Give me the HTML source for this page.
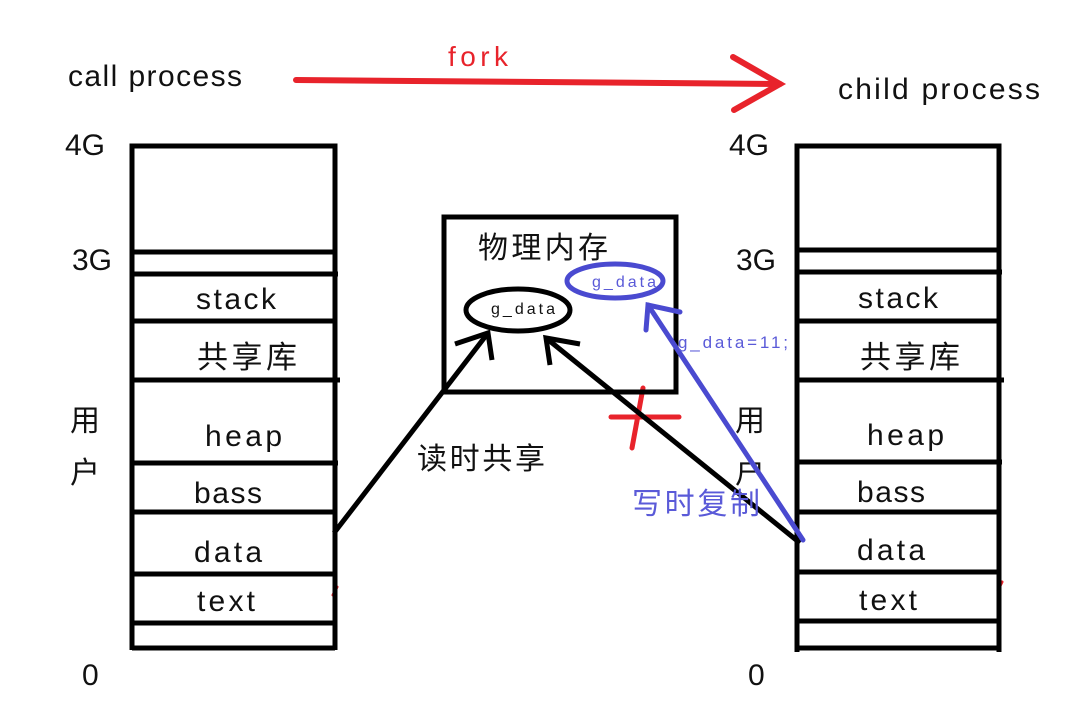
<!DOCTYPE html>
<html><head><meta charset="utf-8"><style>
html,body{margin:0;padding:0;background:#fff;}
svg{display:block}
text{font-family:"Liberation Sans","Noto Sans CJK SC",sans-serif;}
</style></head><body>
<svg width="1080" height="710" viewBox="0 0 1080 710" xmlns="http://www.w3.org/2000/svg">
<rect width="1080" height="710" fill="#fff"/>
<text x="68" y="86" font-size="30" fill="#111" textLength="174">call process</text>
<text x="838" y="99" font-size="30" fill="#111" textLength="202">child process</text>
<text x="448" y="66" font-size="28" fill="#e8232b" textLength="60">fork</text>
<g stroke="#e8232b" stroke-width="6" fill="none" stroke-linecap="round">
<line x1="296" y1="80" x2="780" y2="84"/>
<polyline points="733,57 780,84 734,110"/>
<line x1="643" y1="388" x2="632" y2="448" stroke-width="5"/>
<line x1="611" y1="417" x2="679" y2="417" stroke-width="5"/>
<line x1="337" y1="587" x2="333" y2="595" stroke-width="3"/>
<line x1="1002" y1="582" x2="998" y2="590" stroke-width="3"/>
</g>
<g font-size="30" fill="#111">
<text x="65" y="155">4G</text><text x="72" y="270">3G</text><text x="82" y="685">0</text>
<text x="729" y="155">4G</text><text x="736" y="270">3G</text><text x="748" y="685">0</text>
<text x="70" y="431">用</text><text x="70" y="483">户</text>
<text x="735" y="431">用</text><text x="735" y="483">户</text>
</g>
<g stroke="#000" stroke-width="5" fill="none">
<polyline points="132,650 132,146 335,146 335,650"/>
<line x1="132" y1="252" x2="335" y2="252"/><line x1="132" y1="274" x2="338" y2="274"/>
<line x1="132" y1="321" x2="335" y2="321"/><line x1="130" y1="380" x2="340" y2="380"/>
<line x1="132" y1="463" x2="338" y2="463"/><line x1="132" y1="512" x2="335" y2="512"/>
<line x1="132" y1="574" x2="335" y2="574"/><line x1="132" y1="623" x2="335" y2="623"/>
<line x1="132" y1="648" x2="335" y2="648"/>
<polyline points="797,652 797,146 999,146 999,652"/>
<line x1="797" y1="250" x2="999" y2="250"/><line x1="797" y1="272" x2="1002" y2="272"/>
<line x1="797" y1="321" x2="999" y2="321"/><line x1="795" y1="380" x2="1004" y2="380"/>
<line x1="797" y1="462" x2="1002" y2="462"/><line x1="797" y1="512" x2="999" y2="512"/>
<line x1="797" y1="572" x2="999" y2="572"/><line x1="797" y1="621" x2="999" y2="621"/>
<line x1="797" y1="648" x2="999" y2="648"/>
<rect x="444" y="217" width="232" height="175"/>
<ellipse cx="518" cy="310" rx="52" ry="21"/>
<line x1="334" y1="533" x2="488" y2="333"/>
<polyline points="455,344 488,333 492,360"/>
<line x1="800" y1="543" x2="546" y2="338"/>
<polyline points="550,365 546,338 580,344"/>
</g>
<g font-size="30" fill="#111">
<text x="196" y="309" textLength="80">stack</text><text x="197" y="368" font-size="31" textLength="100">共享库</text>
<text x="205" y="446" textLength="77">heap</text><text x="194" y="503" textLength="68">bass</text>
<text x="194" y="562" textLength="68">data</text><text x="197" y="611" textLength="58">text</text>
<text x="858" y="308" textLength="80">stack</text><text x="860" y="368" font-size="31" textLength="100">共享库</text>
<text x="867" y="445" textLength="77">heap</text><text x="857" y="502" textLength="68">bass</text>
<text x="857" y="560" textLength="68">data</text><text x="859" y="610" textLength="58">text</text>
<text x="478" y="258" font-size="30" textLength="130">物理内存</text>
<text x="417" y="469" font-size="30" textLength="128">读时共享</text>
</g>
<text x="491" y="314" font-size="16" fill="#111" textLength="64">g_data</text>
<g stroke="#4a4ad0" stroke-width="5" fill="none" stroke-linecap="round">
<ellipse cx="615" cy="281" rx="48" ry="17"/>
<line x1="803" y1="540" x2="648" y2="305"/>
<polyline points="646,330 648,305 680,312"/>
</g>
<text x="592" y="287" font-size="16" fill="#5a5ad8" textLength="64">g_data</text>
<text x="678" y="348" font-size="17" fill="#5a5ad8" textLength="110">g_data=11;</text>
<text x="632" y="514" font-size="30" fill="#5a5ad8" textLength="128">写时复制</text>
</svg>
</body></html>
